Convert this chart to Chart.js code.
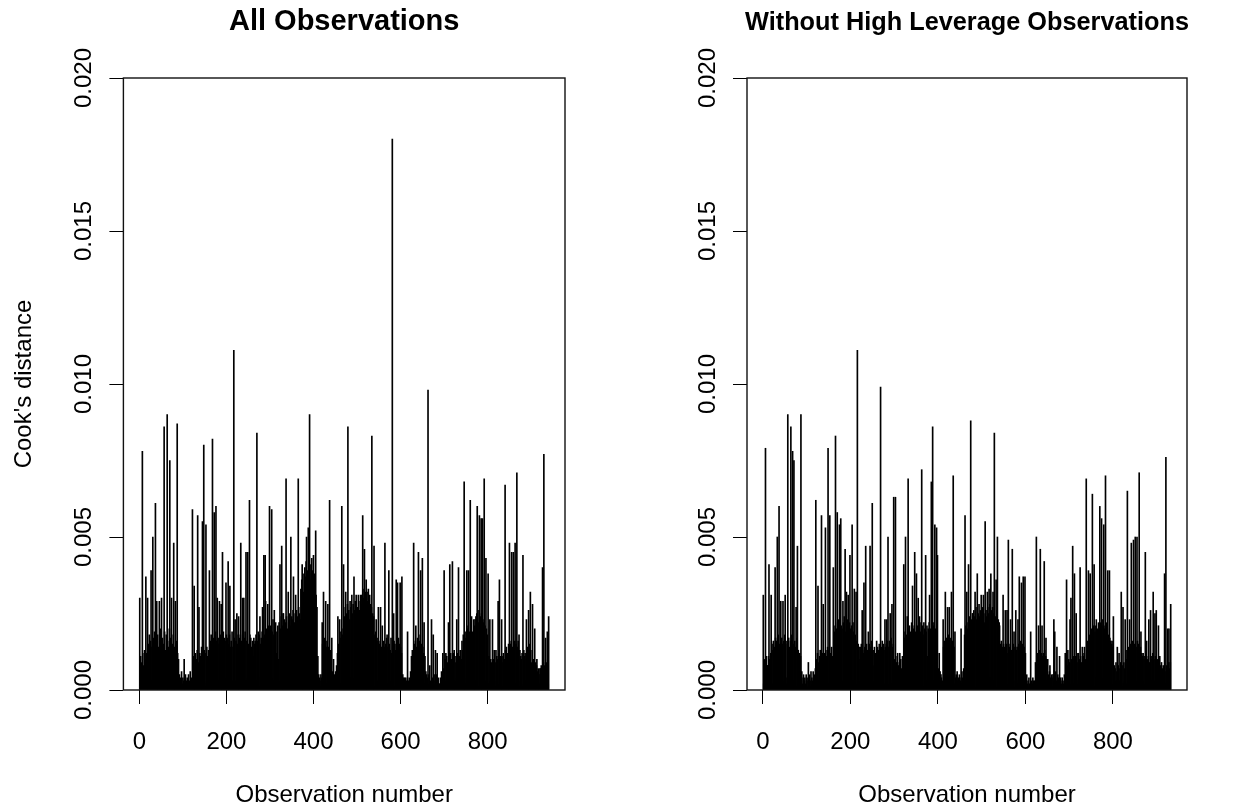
<!DOCTYPE html>
<html>
<head>
<meta charset="utf-8">
<title>Cook's distance</title>
<script src="https://cdn.jsdelivr.net/npm/chart.js@4.4.1/dist/chart.umd.min.js"></script>
<style>
  html, body { margin: 0; padding: 0; background: #fff; }
  #wrap { position: relative; width: 1244px; height: 809px; }
  .panel { position: absolute; top: 0; width: 622px; height: 809px; }
</style>
</head>
<body>
<div id="wrap">
  <div class="panel" style="left:0"><canvas id="left" width="622" height="809"></canvas></div>
  <div class="panel" style="left:622px"><canvas id="right" width="622" height="809"></canvas></div>
</div>
<script>
// Cook's distance per observation, in units of 0.0001 (obs 1..n)
const cookAll = [
  30,2,11,1,9,3,78,12,2,8,      3,13,1,10,37,2,12,4,30,1,
  15,2,18,4,1,16,39,3,14,2,     50,3,17,1,19,2,61,15,4,29,
  2,18,3,14,1,29,16,2,20,4,     30,1,17,3,15,2,86,19,1,13,
  4,18,2,90,16,1,14,3,20,75,    2,17,4,30,1,15,3,18,48,2,
  14,1,29,3,16,2,87,12,1,10,    2,5,1,4,1,3,6,1,2,4,
  1,3,10,1,2,5,1,3,1,4,         2,1,5,1,3,1,6,2,1,4,
  3,59,1,11,2,34,9,1,12,3,      10,2,13,57,1,9,27,3,12,1,
  11,2,14,1,55,10,3,80,13,2,    12,1,54,3,14,2,11,1,13,4,
  39,2,16,4,18,1,15,82,3,17,    2,58,14,1,19,60,3,16,30,2,
  17,3,15,29,1,18,2,28,16,4,    45,2,19,3,17,1,16,4,35,18,
  2,17,3,42,15,1,18,34,2,14,    16,2,19,3,14,1,111,17,2,23,
  3,16,1,25,15,2,18,24,1,17,    2,18,48,3,16,1,30,15,2,30,
  17,1,19,3,45,2,16,4,45,1,     15,2,62,18,1,17,3,14,2,16,
  3,11,17,2,15,16,1,18,3,84,    16,2,19,4,18,1,24,15,3,17,
  2,19,27,1,17,44,3,18,44,29,   3,20,2,18,28,1,21,4,60,17,
  2,21,4,59,19,1,23,3,18,26,    20,2,22,4,12,19,1,21,10,3,
  22,3,41,20,1,24,47,2,21,25,   25,2,23,4,22,1,69,24,3,20,
  3,32,22,2,25,4,21,50,1,24,    23,2,26,37,3,22,1,25,31,4,
  26,3,24,2,69,27,4,25,1,23,    33,5,36,41,4,38,32,6,7,40,
  37,6,42,50,35,5,39,53,4,38,   90,36,5,41,38,43,4,39,35,44,
  6,34,38,3,52,31,4,27,2,11,    2,5,1,4,3,1,5,2,4,22,
  15,2,32,16,1,17,3,29,14,2,    16,1,28,14,3,12,62,2,13,1,
  4,17,1,6,2,10,1,5,3,2,        6,2,8,1,12,24,3,15,2,23,
  17,2,19,3,60,18,1,20,41,4,    24,3,27,32,2,25,5,28,86,4,
  26,2,23,29,4,27,3,31,25,1,    28,4,37,26,2,29,5,31,27,3,
  27,2,31,29,4,26,3,31,28,5,    31,4,57,30,3,33,46,5,32,2,
  36,3,32,29,5,33,2,30,31,4,    28,2,27,83,4,25,3,24,47,1,
  18,2,19,23,1,17,3,16,27,2,    15,3,16,27,1,14,2,21,13,1,
  16,2,14,48,3,15,1,17,18,2,    14,1,39,15,3,13,2,17,12,1,
  180,14,2,25,16,1,15,3,13,36,  2,16,35,1,17,3,15,2,35,14,
  3,12,37,2,5,1,4,2,4,1,        2,4,1,3,1,19,2,3,1,4,
  1,3,6,2,11,1,13,3,12,48,      2,15,3,16,21,1,14,2,17,3,
  45,2,16,1,18,39,3,15,2,43,    14,1,12,22,2,11,3,6,1,5,
  2,4,98,1,5,2,8,1,3,2,         23,1,4,2,18,1,5,2,3,13,
  2,5,1,12,3,1,4,1,2,2,         1,4,2,6,1,3,12,2,7,39,
  2,10,3,12,1,11,2,9,4,22,      11,2,41,3,12,1,10,3,42,2,
  12,1,13,3,11,2,9,4,23,1,      12,3,40,2,11,1,13,13,2,10,
  16,2,13,18,1,68,3,17,2,19,    4,39,20,2,21,39,3,19,1,62,
  22,2,24,4,19,14,3,23,1,21,    23,3,24,2,25,60,4,22,1,26,
  57,2,24,3,56,25,1,56,23,4,    22,69,2,21,3,43,20,1,18,2,
  38,2,11,1,23,3,10,1,9,2,      23,1,10,2,13,3,9,1,13,2,
  11,2,10,29,1,12,36,3,11,1,    2,23,9,1,11,12,2,10,1,67,
  13,2,14,1,12,10,3,15,1,48,    2,15,3,16,45,1,14,2,45,15,
  3,16,48,2,15,1,71,14,3,16,    2,18,1,13,3,11,10,2,12,1,
  44,2,13,1,11,12,3,10,23,2,    14,1,12,26,3,15,2,32,13,1,
  9,2,28,1,10,3,8,20,2,9,       1,8,10,2,6,7,1,5,2,7,
  7,1,8,2,6,40,1,9,77,2,        8,2,17,1,9,3,19,10,2,24
];

const cookNoHighLev = [
  31,2,10,1,9,79,3,11,1,8,      8,2,11,41,1,10,3,12,31,2,
  15,2,13,16,1,14,3,40,17,2,    16,3,50,1,18,2,60,15,4,14,
  29,2,17,3,15,29,1,16,3,18,    31,1,16,2,4,15,90,3,17,2,
  14,3,16,86,2,18,1,78,15,3,    75,2,16,4,14,27,1,17,47,3,
  13,2,10,12,1,11,90,3,6,1,     2,4,5,1,3,4,1,2,5,1,
  3,1,4,9,2,1,5,3,1,6,          2,4,1,3,6,1,2,5,1,7,
  62,2,10,1,12,34,3,9,1,11,     13,2,11,57,1,12,3,28,10,2,
  12,1,53,13,2,11,3,14,79,2,    13,2,57,12,1,4,14,3,11,2,
  40,3,19,2,21,83,4,20,1,58,    22,2,23,4,54,19,3,56,21,1,
  20,3,29,22,2,24,4,46,19,2,    32,2,23,3,31,21,1,22,44,4,
  20,2,21,54,3,22,1,19,33,2,    18,3,32,2,16,111,1,15,3,14,
  2,10,14,1,15,3,26,13,2,12,    35,2,14,3,47,1,15,2,13,4,
  19,2,15,1,47,14,3,16,2,61,    3,13,1,8,14,2,12,3,11,16,
  2,14,3,13,1,15,2,12,99,3,     14,2,16,3,15,1,13,2,23,14,
  2,15,23,3,16,50,1,14,2,16,    25,3,17,2,28,14,1,15,63,2,
  10,2,63,1,9,3,11,12,2,8,      1,9,12,2,10,1,7,3,11,2,
  3,41,17,2,19,50,1,18,3,24,    2,69,20,3,21,1,19,12,2,22,
  18,34,3,20,2,21,45,1,19,3,    38,2,21,3,30,20,1,24,22,2,
  19,3,72,2,21,18,1,22,3,20,    2,44,19,3,21,11,1,20,2,22,
  31,2,20,3,68,19,1,86,21,3,    22,2,54,3,20,1,53,19,44,2,
  7,2,12,1,6,3,5,4,1,3,         2,23,14,1,16,3,32,15,2,17,
  3,27,16,2,18,27,1,17,3,15,    32,2,16,3,70,1,14,2,19,4,
  2,5,1,6,3,1,4,2,5,4,          1,3,20,2,6,1,4,3,7,2,
  18,57,3,21,2,32,20,4,22,41,   2,24,3,22,88,1,23,4,25,25,
  2,26,3,24,32,1,27,4,23,38,    3,25,2,28,24,4,26,1,31,23,
  2,27,3,31,25,4,22,55,1,26,    24,3,32,27,2,25,33,4,28,1,
  38,2,26,4,27,32,3,25,84,2,    24,3,36,1,26,50,2,23,4,22,
  21,2,15,3,16,1,14,2,31,15,    3,14,2,26,13,1,15,26,2,12,
  49,3,14,1,15,23,2,13,3,46,    2,15,3,19,1,14,2,26,13,3,
  14,2,23,3,15,37,1,16,2,13,    35,2,15,3,37,1,14,3,37,12,
  3,1,5,2,1,3,1,4,2,1,          2,19,1,3,1,2,4,1,3,2,
  3,1,9,2,50,11,1,12,3,21,      2,10,13,46,1,12,3,21,11,2,
  12,1,42,13,2,11,17,3,10,2,    10,2,5,1,6,8,2,4,1,5,
  4,1,5,2,23,3,19,1,6,2,        3,14,1,5,2,4,1,11,2,4,
  3,1,2,4,1,3,2,1,5,2,          12,2,6,36,1,8,13,2,10,3,
  9,23,2,30,1,10,3,47,11,2,     10,38,2,11,1,25,3,12,2,9,
  12,2,10,1,40,11,3,9,2,14,     1,11,3,12,14,2,10,1,69,12,
  3,16,2,39,17,1,18,38,2,19,    20,2,64,18,3,21,41,1,19,4,
  21,23,2,20,3,15,22,1,19,60,   2,22,3,56,21,1,23,4,54,20,
  2,21,70,3,22,1,20,39,2,18,    3,39,17,2,16,1,15,16,2,14,
  24,2,8,1,7,3,9,1,6,14,        2,8,1,12,3,7,1,9,32,2,
  8,1,27,2,9,3,7,23,1,10,       2,13,65,1,14,3,12,23,2,15,
  3,48,14,2,16,1,49,13,3,15,    50,2,14,3,50,16,1,15,2,71,
  13,2,14,19,1,12,3,11,12,2,    10,1,11,45,2,9,16,3,10,1,
  11,23,2,9,1,26,10,3,11,2,     12,32,1,10,3,25,11,2,26,9,
  2,10,1,21,9,3,11,1,8,2,       9,1,7,2,8,3,1,38,6,2,
  76,2,8,1,20,3,9,20,1,7,       9,28
];

const xTicks = [0, 200, 400, 600, 800];
const yTicks = [0, 0.005, 0.010, 0.015, 0.020];
const yTickLabels = ['0.000', '0.005', '0.010', '0.015', '0.020'];
const xTitle = 'Observation number';
const yTitle = "Cook's distance";

const FONT = '"Liberation Sans", Arial, Helvetica, sans-serif';

// box, title and rotated labels (R style)
const frame = {
    id: 'frame',
    afterDatasetsDraw(chart, args, opts) {
        const {ctx, chartArea: a, scales} = chart;
        ctx.save();
        ctx.strokeStyle = '#111';
        ctx.lineWidth = 1.4;
        ctx.strokeRect(a.left, a.top, a.right - a.left, a.bottom - a.top);

        const cx = (a.left + a.right) / 2;
        ctx.fillStyle = '#000';
        ctx.textAlign = 'center';
        ctx.textBaseline = 'alphabetic';
        ctx.font = 'bold ' + opts.titleSize + 'px ' + FONT;
        ctx.fillText(opts.title, cx, 30);

        ctx.font = '24px ' + FONT;
        ctx.fillText(xTitle, cx, 802);

        yTicks.forEach((v, i) => {
            const py = scales.y.getPixelForValue(v);
            ctx.save();
            ctx.translate(a.left - 32, py);
            ctx.rotate(-Math.PI / 2);
            ctx.fillText(yTickLabels[i], 0, 0);
            ctx.restore();
        });
        if (opts.yTitle) {
            ctx.save();
            ctx.translate(a.left - 92, (a.top + a.bottom) / 2);
            ctx.rotate(-Math.PI / 2);
            ctx.fillText(opts.yTitle, 0, 0);
            ctx.restore();
        }
        ctx.restore();
    }
};

function makePanel(id, title, titleSize, values, boxLeft, boxRight, withYTitle) {
    const n = values.length;
    const ext = 0.04 * (n - 1);
    const tick = {display: true, drawOnChartArea: false, drawTicks: true, tickLength: 14,
                  color: '#000', lineWidth: 1, offset: false};
    return new Chart(document.getElementById(id), {
        type: 'bar',
        data: {
            datasets: [{
                data: values.map((v, i) => ({x: i + 1, y: v / 10000})),
                backgroundColor: '#000',
                borderWidth: 0,
                barThickness: 1
            }]
        },
        options: {
            responsive: false,
            animation: false,
            devicePixelRatio: 1,
            layout: {padding: {top: 78, right: 622 - boxRight, left: 0, bottom: 0}},
            plugins: {
                legend: {display: false},
                tooltip: {enabled: false},
                frame: {title: title, titleSize: titleSize, yTitle: withYTitle ? yTitle : null}
            },
            scales: {
                x: {
                    type: 'linear',
                    min: 1 - ext,
                    max: n + ext,
                    offset: false,
                    grid: tick,
                    border: {display: false},
                    afterBuildTicks: s => { s.ticks = xTicks.map(v => ({value: v})); },
                    afterFit: s => { s.height = 809 - 690; },
                    ticks: {color: '#000', padding: 24, maxRotation: 0, autoSkip: false,
                            font: {family: FONT, size: 24}}
                },
                y: {
                    min: 0,
                    max: 0.02,
                    grid: tick,
                    border: {display: false},
                    afterBuildTicks: s => { s.ticks = yTicks.map(v => ({value: v})); },
                    afterFit: s => { s.width = boxLeft; },
                    ticks: {display: false}
                }
            }
        },
        plugins: [frame]
    });
}

makePanel('left', 'All Observations', 29, cookAll, 123.4, 565, true);
makePanel('right', 'Without High Leverage Observations', 25.3, cookNoHighLev, 125, 565, false);
</script>
</body>
</html>
